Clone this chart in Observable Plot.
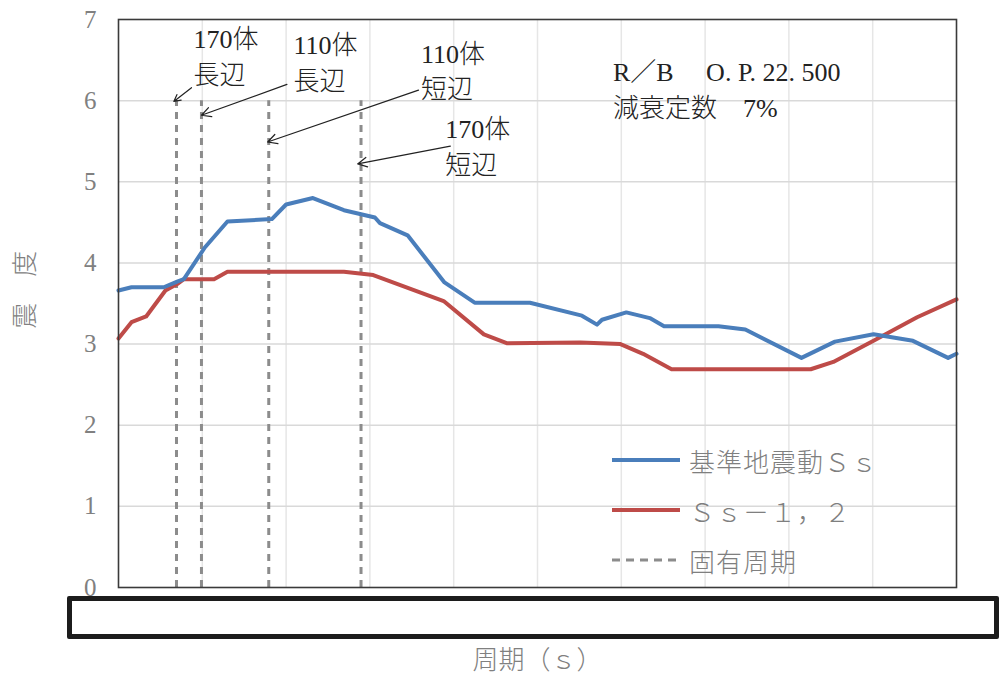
<!DOCTYPE html>
<html>
<head>
<meta charset="utf-8">
<script src="https://cdn.jsdelivr.net/npm/d3@7"></script>
<script src="https://cdn.jsdelivr.net/npm/@observablehq/plot@0.6"></script>
<style>
  html, body { margin: 0; padding: 0; background: #fff; }
  #wrap { position: relative; width: 1000px; height: 675px; font-family: "Liberation Serif", "Noto Sans CJK JP", serif; }
  #box { position: absolute; left: 67px; top: 596px; width: 922px; height: 33px; border: 5px solid #1c1c1c; border-radius: 2px; background: #fff; }
  .leg { position: absolute; left: 611px; height: 30px; display: flex; align-items: center; color: #7f7f7f; font-size: 26px; font-weight: 300; letter-spacing: 1px; }
  .leg svg { margin-right: 8px; }
</style>
</head>
<body>
<div id="wrap"></div>
<script>
// --- data ---
// 基準地震動Ｓｓ
const ssPeriod = [0.000, 0.0155, 0.054, 0.070, 0.078, 0.103, 0.130, 0.183, 0.200, 0.232, 0.269, 0.306, 0.312, 0.345, 0.389, 0.425, 0.491, 0.553, 0.571, 0.577, 0.606, 0.634, 0.651, 0.716, 0.748, 0.815, 0.855, 0.901, 0.948, 0.990, 1.000];
const ssValue  = [3.66, 3.70, 3.70, 3.77, 3.80, 4.19, 4.51, 4.54, 4.72, 4.80, 4.65, 4.56, 4.49, 4.34, 3.76, 3.51, 3.51, 3.35, 3.24, 3.30, 3.39, 3.32, 3.22, 3.22, 3.18, 2.83, 3.03, 3.12, 3.04, 2.83, 2.88];
// Ｓｓ－１，２
const ss12Period = [0.000, 0.0155, 0.033, 0.056, 0.070, 0.078, 0.114, 0.130, 0.269, 0.304, 0.388, 0.436, 0.464, 0.551, 0.599, 0.626, 0.660, 0.826, 0.853, 0.901, 0.953, 1.000];
const ss12Value  = [3.07, 3.27, 3.34, 3.66, 3.74, 3.80, 3.80, 3.89, 3.89, 3.85, 3.53, 3.12, 3.01, 3.02, 3.00, 2.88, 2.69, 2.69, 2.78, 3.04, 3.33, 3.55];
// 固有周期
const naturalPeriods = [0.0692, 0.0990, 0.1793, 0.2894];
const naturalLabels = ["170体\n長辺", "110体\n長辺", "110体\n短辺", "170体\n短辺"];
// tick labels
const yTicks = [0, 1, 2, 3, 4, 5, 6, 7];
const xTicks = [0, 0.1, 0.2, 0.3, 0.4, 0.5, 0.6, 0.7, 0.8, 0.9, 1.0];
const seriesNames = ["基準地震動Ｓｓ", "Ｓｓ－１，２", "固有周期"];
const xLabel = "周期（ｓ）";
const yLabel = "震　度";
const noteText = "R／B　 O. P. 22. 500\n減衰定数　7%";

// annotation placement (data units)
const labelPos = [
  {x: 0.0894, y: 6.57}, {x: 0.2088, y: 6.49}, {x: 0.3610, y: 6.39}, {x: 0.3900, y: 5.46}
];
const arrowPos = [
  {x1: 0.0871, y1: 6.16, x2: 0.0660, y2: 5.99},
  {x1: 0.2010, y1: 6.20, x2: 0.0990, y2: 5.82},
  {x1: 0.3580, y1: 6.13, x2: 0.1780, y2: 5.49},
  {x1: 0.3960, y1: 5.44, x2: 0.2854, y2: 5.22}
];

const blue = "#4a7ebb", red = "#be4b48", dashGray = "#8c8c8c";
const ss = ssPeriod.map((p, i) => ({p, v: ssValue[i]}));
const ss12 = ss12Period.map((p, i) => ({p, v: ss12Value[i]}));
const labels = naturalLabels.map((t, i) => ({...labelPos[i], t}));
const arrows = arrowPos.map((a, i) => ({...a, k: naturalLabels[i]}));

const chart = Plot.plot({
  width: 1000,
  height: 675,
  marginLeft: 118,
  marginRight: 44,
  marginTop: 19,
  marginBottom: 88,
  style: {fontFamily: '"Liberation Serif", "Noto Sans CJK JP", serif', background: "#fff", overflow: "visible"},
  x: {domain: [0, 1], axis: null},
  y: {domain: [0, 7], axis: null},
  marks: [
    Plot.gridX(xTicks.slice(1, -1), {stroke: "#e6e6e6", strokeOpacity: 1, strokeWidth: 1.5}),
    Plot.gridY(yTicks.slice(1, -1), {stroke: "#d9d9d9", strokeOpacity: 1, strokeWidth: 1.5}),
    Plot.ruleX(naturalPeriods, {x: d => d, y1: () => 0, y2: () => 6, stroke: dashGray, strokeWidth: 3, strokeDasharray: "7,6"}),
    Plot.line(ss12, {x: "p", y: "v", stroke: red, strokeWidth: 4, strokeLinejoin: "round"}),
    Plot.line(ss, {x: "p", y: "v", stroke: blue, strokeWidth: 4, strokeLinejoin: "round"}),
    Plot.frame({stroke: "#3a3a3a", strokeWidth: 1.6}),
    Plot.axisY(yTicks, {tickSize: 0, tickPadding: 22, fontSize: 25, fill: "#808080", label: null, tickFormat: d3.format("d")}),
    Plot.text([yLabel], {x: () => 0, y: () => 3.67, dx: -93, rotate: -90, fontSize: 26, fontWeight: 300, fill: "#808080", text: d => d}),
    Plot.text([xLabel], {frameAnchor: "bottom", dy: 81, fontSize: 26, fontWeight: 300, fill: "#808080", text: d => d}),
    Plot.text(labels, {x: "x", y: "y", text: "t", textAnchor: "start", lineAnchor: "middle", lineHeight: 1.38, fontSize: 26, fontWeight: 300, fill: "#222"}),
    Plot.arrow(arrows, {x1: "x1", y1: "y1", x2: "x2", y2: "y2", stroke: "#222", strokeWidth: 1.2, headLength: 13, headAngle: 55}),
    Plot.text([noteText], {x: () => 0.590, y: () => 6.16, text: d => d, textAnchor: "start", lineAnchor: "middle", lineHeight: 1.38, fontSize: 26, fontWeight: 300, fill: "#222"})
  ]
});

const wrap = document.getElementById("wrap");
wrap.appendChild(chart);

const box = document.createElement("div");
box.id = "box";
wrap.appendChild(box);

const legendItems = [
  {name: seriesNames[0], color: blue, dash: null, width: 4, top: 445},
  {name: seriesNames[1], color: red, dash: null, width: 4, top: 495},
  {name: seriesNames[2], color: dashGray, dash: "8,6", width: 3, top: 545}
];
for (const it of legendItems) {
  const row = document.createElement("div");
  row.className = "leg";
  row.style.top = it.top + "px";
  const svg = d3.create("svg").attr("width", 70).attr("height", 30);
  svg.append("line").attr("x1", 1).attr("x2", 69).attr("y1", 15).attr("y2", 15)
    .attr("stroke", it.color).attr("stroke-width", it.width)
    .attr("stroke-dasharray", it.dash);
  row.appendChild(svg.node());
  const span = document.createElement("span");
  span.textContent = it.name;
  row.appendChild(span);
  wrap.appendChild(row);
}
</script>
</body>
</html>
